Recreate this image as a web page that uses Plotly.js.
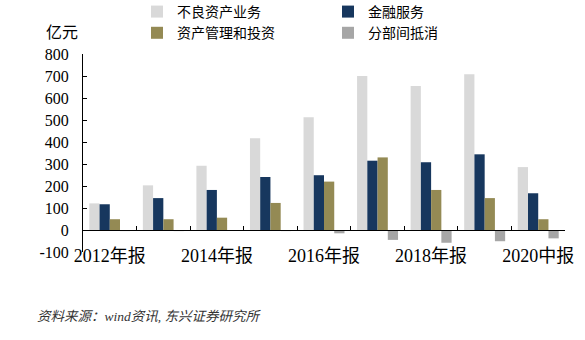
<!DOCTYPE html>
<html>
<head>
<meta charset="utf-8">
<script src="https://cdn.plot.ly/plotly-3.0.1.min.js"></script>
<style>html,body{margin:0;padding:0;background:#fff;}#chart{width:585px;height:340px;}</style>
</head>
<body>
<div id="chart"></div>
<script>
const categories = ['2012年报','2013年报','2014年报','2015年报','2016年报','2017年报','2018年报','2019年报','2020中报'];
const tickLabels = ['2012年报','','2014年报','','2016年报','','2018年报','','2020中报'];
const yTickVals = [-100, 0, 100, 200, 300, 400, 500, 600, 700, 800];
const yTickText = ['-100','0','100','200','300','400','500','600','700','800'];
const nplValues = [121, 203, 292, 417, 512, 700, 655, 708, 286];      // 不良资产业务
const finValues = [117, 145, 182, 241, 249, 315, 308, 344, 167];      // 金融服务
const amValues = [49, 49, 56, 123, 220, 330, 182, 145, 49];           // 资产管理和投资
const elimValues = [-5, -5, -3, -5, -15, -45, -58, -51, -38];         // 分部间抵消
const seriesNames = ['不良资产业务','金融服务','资产管理和投资','分部间抵消'];
const seriesColors = ['#d9d9d9','#17375e','#948a54','#a6a6a6'];
const yTitle = '亿元';
const sourceNote = '资料来源：wind资讯, 东兴证券研究所';

const serif = 'Liberation Serif, Noto Sans CJK SC, serif';
const values = [nplValues, finValues, amValues, elimValues];
const traces = values.map((v, i) => ({
  type: 'bar', x: categories, y: v, name: seriesNames[i],
  marker: {color: seriesColors[i]}, hoverinfo: 'x+y+name'
}));

const layout = {
  width: 585, height: 340,
  margin: {l: 83, r: 20, t: 54, b: 88, autoexpand: false},
  paper_bgcolor: '#fff', plot_bgcolor: '#fff',
  barmode: 'group', bargap: 0.235, bargroupgap: 0,
  showlegend: true,
  legend: {
    orientation: 'h', x: 0.112, xanchor: 'left', y: 1.293, yanchor: 'top',
    entrywidth: 146, bgcolor: 'rgba(0,0,0,0)', borderwidth: 0,
    font: {family: serif, size: 14, color: '#000'}, traceorder: 'normal'
  },
  xaxis: {
    type: 'category', anchor: 'free', position: 1/9,
    tickmode: 'array', tickvals: categories, ticktext: tickLabels, tickangle: 0,
    tickson: 'boundaries', ticks: 'inside', ticklen: 4, tickcolor: '#000',
    showline: true, linecolor: '#000', linewidth: 1, showgrid: false, zeroline: false,
    tickfont: {family: serif, size: 18, color: '#000'}, ticklabelstandoff: 9,
    range: [-0.5, 8.5]
  },
  yaxis: {
    range: [-100, 800], tickmode: 'array', tickvals: yTickVals, ticktext: yTickText,
    ticks: 'inside', ticklen: 4, tickcolor: '#000',
    showline: true, linecolor: '#000', linewidth: 1, showgrid: false, zeroline: false,
    tickfont: {family: serif, size: 16, color: '#000'}, ticklabelstandoff: 10
  },
  annotations: [
    {text: yTitle, xref: 'paper', yref: 'paper', x: -0.0436, y: 1.111, xanchor: 'center', yanchor: 'middle',
     showarrow: false, font: {family: serif, size: 16, color: '#000'}},
    {text: sourceNote, xref: 'paper', yref: 'paper', x: -0.0996, y: -0.328, xanchor: 'left', yanchor: 'middle',
     showarrow: false, font: {family: serif, size: 13.5, color: '#333', style: 'italic'}}
  ]
};

Plotly.newPlot('chart', traces, layout, {displayModeBar: false, staticPlot: true});
</script>
</body>
</html>
